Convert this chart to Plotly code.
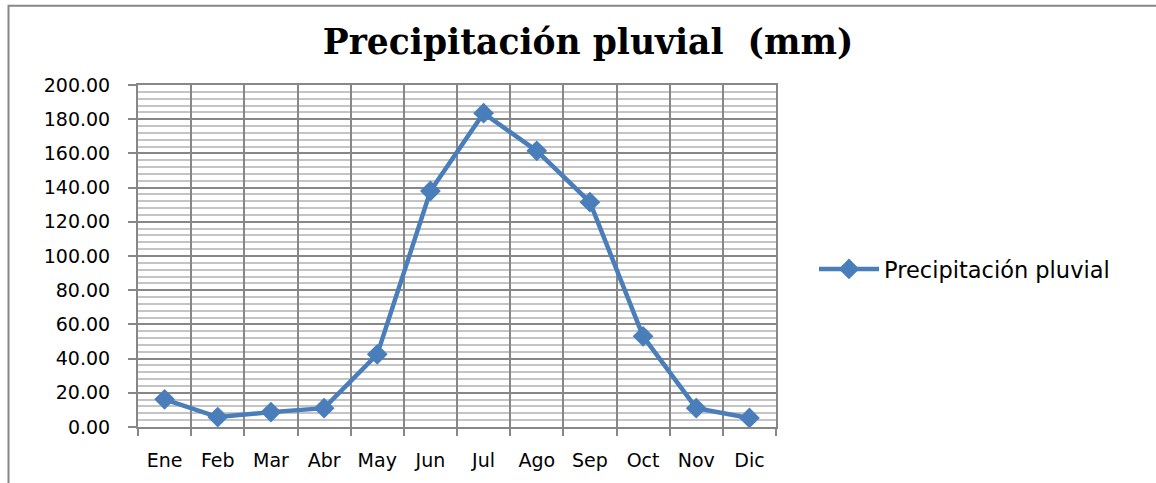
import plotly.graph_objects as go

months = ["Ene", "Feb", "Mar", "Abr", "May", "Jun", "Jul", "Ago", "Sep", "Oct", "Nov", "Dic"]
precip = [16.2, 5.8, 8.7, 11.0, 42.5, 138.0, 183.5, 161.5, 131.5, 53.0, 11.0, 5.3]
series_name = "Precipitación pluvial"
title_text = "<b>Precipitación pluvial  (mm)</b>"

blue = "#4A7EBB"
grid_major = "#878787"
grid_minor = "#C4C4C4"

W, H = 1156, 483
px0, px1, py0, py1 = 138, 776, 85, 432  # plot area on screen
L, T = px0, py0
pw, ph = px1 - px0, py1 - py0
R, B = W - L - pw, H - T - ph


def sx(x):
    return (x - px0) / pw


def sy(y):
    return (py1 - y) / ph


fig = go.Figure()
fig.add_trace(go.Scatter(
    x=months, y=precip, name=series_name, mode="lines+markers",
    line=dict(color=blue, width=4.5),
    marker=dict(symbol="diamond", size=16, color=blue),
))

fig.update_layout(
    width=W, height=H,
    margin=dict(l=L, r=R, t=T, b=B),
    paper_bgcolor="white", plot_bgcolor="white",
    title=dict(text=title_text, x=588 / W, xref="container", xanchor="center",
               y=1 - 42 / H, yref="container", yanchor="middle",
               font=dict(family="DejaVu Serif", size=34.5, color="black")),
    showlegend=True,
    legend=dict(x=sx(814), y=sy(272), xanchor="left", yanchor="middle",
                font=dict(family="DejaVu Sans", size=22.5, color="black"),
                bgcolor="rgba(0,0,0,0)", itemwidth=60),
    font=dict(family="DejaVu Sans", size=19, color="black"),
)

fig.update_xaxes(
    type="category", range=[-0.5, 11.5], tickson="boundaries",
    showgrid=True, gridcolor=grid_major, gridwidth=2,
    showline=True, linecolor=grid_major, linewidth=2, mirror=True,
    ticks="outside", ticklen=7, tickwidth=2, tickcolor=grid_major,
    ticklabelstandoff=15,
    tickfont=dict(family="DejaVu Sans", size=19, color="black"),
    zeroline=False,
)
fig.update_yaxes(
    range=[0, 200], dtick=20, tickformat=".2f",
    showgrid=True, gridcolor=grid_major, gridwidth=2,
    minor=dict(dtick=4, showgrid=True, gridcolor=grid_minor, gridwidth=1.5),
    showline=True, linecolor=grid_major, linewidth=2, mirror=True,
    ticks="outside", ticklen=8, tickwidth=2, tickcolor=grid_major,
    ticklabelstandoff=14,
    tickfont=dict(family="DejaVu Sans", size=19, color="black"),
    zeroline=False,
)

# outer chart frame (extends past the right and bottom edges of the image)
fig.add_shape(type="rect", xref="paper", yref="paper",
              x0=sx(8.5), x1=sx(1190),
              y0=sy(520), y1=sy(4.5),
              line=dict(color=grid_major, width=2), fillcolor="rgba(0,0,0,0)", layer="below")

fig.write_html(
    "out.html",
    config={"displayModeBar": False},
    post_script=(
        "var d=document.documentElement,b=document.body;"
        "d.style.margin='0';d.style.padding='0';d.style.overflow='hidden';d.style.height='483px';"
        "b.style.margin='0';b.style.padding='0';b.style.overflow='hidden';b.style.height='483px';"
    ),
)
